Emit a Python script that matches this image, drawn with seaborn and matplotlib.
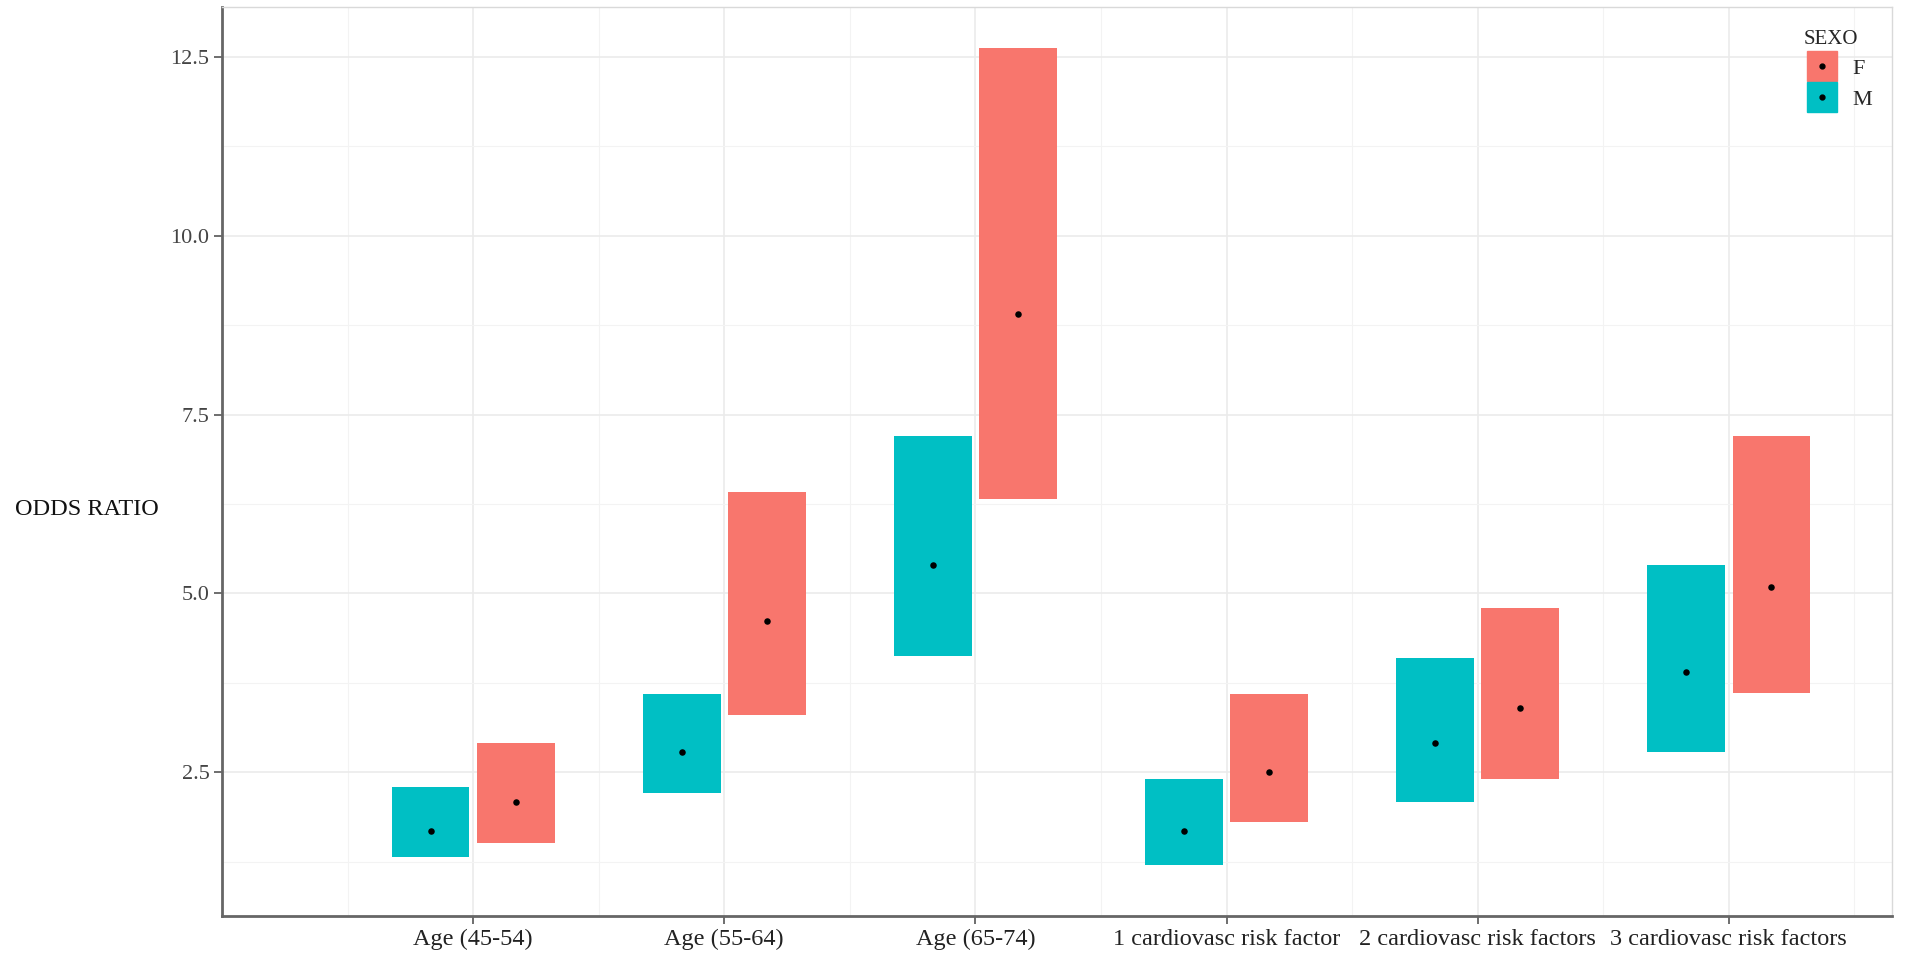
import matplotlib
matplotlib.use("Agg")
import matplotlib.pyplot as plt
from matplotlib.lines import Line2D
from matplotlib.ticker import MultipleLocator
import numpy as np
import pandas as pd
import seaborn as sns

# odds ratios (lower, estimate, upper) per sex
categories = ["Age (45-54)", "Age (55-64)", "Age (65-74)",
              "1 cardiovasc risk factor", "2 cardiovasc risk factors",
              "3 cardiovasc risk factors"]
f_lower = [1.51, 3.30, 6.32, 1.80, 2.41, 3.61]
f_est = [2.09, 4.61, 8.91, 2.50, 3.40, 5.09]
f_upper = [2.91, 6.42, 12.62, 3.59, 4.80, 7.20]
m_lower = [1.31, 2.21, 4.12, 1.21, 2.09, 2.79]
m_est = [1.68, 2.79, 5.40, 1.68, 2.91, 3.90]
m_upper = [2.30, 3.59, 7.20, 2.40, 4.10, 5.40]
sexes = ["F", "M"]
palette = {"F": "#F8766D", "M": "#00BFC4"}

rows = []
for sex, lo, est, up in [("F", f_lower, f_est, f_upper), ("M", m_lower, m_est, m_upper)]:
    for i, cat in enumerate(categories):
        rows.append({"cat": cat, "pos": i + 1, "SEXO": sex,
                     "lower": lo[i], "est": est[i], "upper": up[i]})
df = pd.DataFrame(rows)
dodge = {"M": -0.17, "F": 0.17}
df["x"] = df["pos"] + df["SEXO"].map(dodge)

sns.set_theme(style="white")
plt.rcParams["font.family"] = ["Liberation Serif", "DejaVu Serif"]

fig = plt.figure(figsize=(19.08, 9.57), dpi=100)
ax = fig.add_axes([0.1164, 0.0428, 0.8752, 0.950])

# crossbars as floating bars
for sex in sexes:
    d = df[df["SEXO"] == sex]
    ax.bar(d["x"], d["upper"] - d["lower"], bottom=d["lower"], width=0.31,
           color=palette[sex], edgecolor="none", zorder=2)

sns.scatterplot(data=df, x="x", y="est", color="black", s=22, linewidth=0,
                ax=ax, zorder=3, legend=False)

ax.set_xlim(0, 6.65)
ax.set_ylim(0.49, 13.2)
ax.set_xticks(range(1, len(categories) + 1))
ax.set_xticklabels(categories, fontsize=17.5, color="#222222")
ax.xaxis.set_minor_locator(MultipleLocator(0.5))
ax.yaxis.set_minor_locator(MultipleLocator(1.25))
ax.set_yticks([2.5, 5.0, 7.5, 10.0, 12.5])
ax.set_yticklabels(["2.5", "5.0", "7.5", "10.0", "12.5"], fontsize=16, color="#444444")

ax.grid(which="major", color="#ebebeb", linewidth=1.2, zorder=0)
ax.grid(which="minor", color="#f3f3f3", linewidth=0.8, zorder=0)
ax.set_axisbelow(True)

ax.tick_params(axis="both", which="major", length=6, width=1.2, color="#555555",
               direction="out", bottom=True, left=True, pad=3)
ax.tick_params(axis="both", which="minor", length=0)

for side in ["top", "right"]:
    ax.spines[side].set_color("#d9d9d9")
    ax.spines[side].set_linewidth(1.0)
for side in ["left", "bottom"]:
    ax.spines[side].set_color("#666666")
    ax.spines[side].set_linewidth(2.0)

ax.set_xlabel("")
ax.set_ylabel("ODDS RATIO", rotation=0, fontsize=17.5, color="#111111",
              ha="left", va="center")
ax.yaxis.set_label_coords(-0.124, 0.447)

handles = []
for sex in sexes:
    box = Line2D([], [], marker="s", markersize=22, color=palette[sex], linestyle="")
    dot = Line2D([], [], marker="o", markersize=3.5, color="black", linestyle="")
    handles.append((box, dot))
leg = ax.legend(handles, sexes, title="SEXO", loc="upper right",
                bbox_to_anchor=(1.0, 0.997), frameon=False, fontsize=16,
                title_fontsize=15, handlelength=1.7, handletextpad=0.5,
                labelspacing=0.45, borderaxespad=0.5)
leg._legend_box.align = "left"

fig.savefig("out.png", dpi=100)
